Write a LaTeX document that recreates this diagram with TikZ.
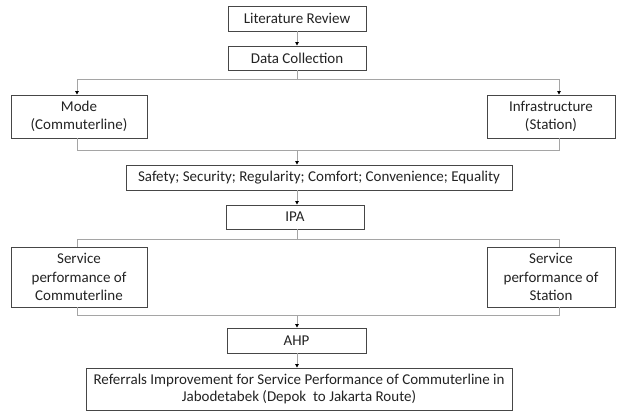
\documentclass[tikz,border=0pt]{standalone}
\usepackage{fontspec}
\setmainfont{Carlito}
\usetikzlibrary{arrows.meta}
\definecolor{boxc}{RGB}{70,70,70}
\definecolor{linec}{RGB}{165,165,165}
\definecolor{txt}{RGB}{35,35,35}
\begin{document}
\begin{tikzpicture}[x=1pt,y=-1pt,
 box/.style={draw=boxc,line width=0.9pt,inner sep=0pt,align=center,text=txt,font=\fontsize{15}{18.5}\selectfont},
 conn/.style={draw=linec,line width=1pt},
 arr/.style={conn,-{Triangle[length=3.5pt,width=3.5pt,color=black]}}]
\useasboundingbox (0,0) rectangle (618,412);
\node[box,minimum width=138pt,minimum height=25pt] (lr) at (297,18.5) {Literature Review};
\node[box,minimum width=138pt,minimum height=24pt] (dc) at (297,58) {Data Collection};
\node[box,minimum width=136pt,minimum height=43pt] (mode) at (79,116.5) {Mode\\(Commuterline)};
\node[box,minimum width=128pt,minimum height=43pt] (infra) at (551,116.5) {Infrastructure\\(Station)};
\node[box,minimum width=386pt,minimum height=25pt] (safety) at (319,177.5) {Safety; Security; Regularity; Comfort; Convenience; Equality};
\node[box,minimum width=138pt,minimum height=24pt] (ipa) at (295,217) {IPA};
\node[box,minimum width=136pt,minimum height=60pt] (serv1) at (79,277) {Service\\performance of\\Commuterline};
\node[box,minimum width=128pt,minimum height=60pt] (serv2) at (551,277) {Service\\performance of\\Station};
\node[box,minimum width=139pt,minimum height=25pt] (ahp) at (296.5,340.5) {AHP};
\node[box,minimum width=426pt,minimum height=42pt,font=\fontsize{15}{17.5}\selectfont] (ref) at (299,389) {Referrals Improvement for Service Performance of Commuterline in\\Jabodetabek (Depok~ to Jakarta Route)};
\coordinate (j1) at (297,79);
\coordinate (j2) at (297,150);
\coordinate (j3) at (297,239);
\coordinate (j4) at (297,315);
\draw[arr] (lr) -- (dc);
\draw[conn] (dc.south) -- (j1);
\draw[arr] (j1) -| ([xshift=-2pt]mode.north);
\draw[arr] (j1) -| ([xshift=8pt]infra.north);
\draw[conn] ([xshift=-2pt]mode.south) |- (j2);
\draw[conn] ([xshift=8pt]infra.south) |- (j2);
\draw[arr] (j2) -- (j2 |- safety.north);
\draw[arr] (j2 |- safety.south) -- (j2 |- ipa.north);
\draw[conn] (j2 |- ipa.south) -- (j3);
\draw[conn] (j3) -| ([xshift=-2pt]serv1.north);
\draw[conn] (j3) -| ([xshift=8pt]serv2.north);
\draw[conn] ([xshift=-2pt]serv1.south) |- (j4);
\draw[conn] ([xshift=8pt]serv2.south) |- (j4);
\draw[arr] (j4) -- (j4 |- ahp.north);
\draw[arr] (j4 |- ahp.south) -- (j4 |- ref.north);
\end{tikzpicture}
\end{document}
